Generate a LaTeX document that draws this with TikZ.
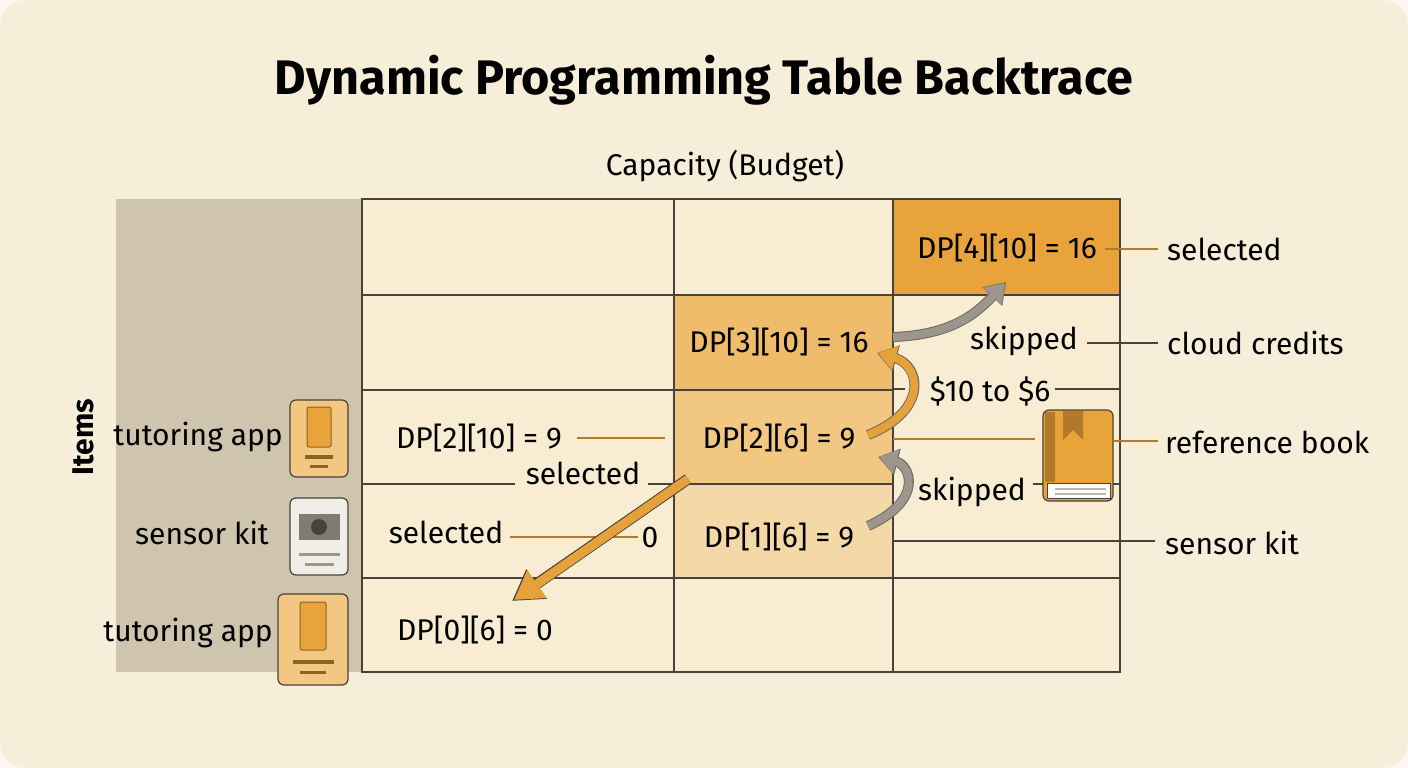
\documentclass[tikz,border=0pt]{standalone}
\usepackage{fontspec}
\setmainfont{Fira Sans}
\usetikzlibrary{arrows.meta}
\definecolor{bg}{HTML}{F6EED8}
\definecolor{cellc}{HTML}{F8EDD3}
\definecolor{side}{HTML}{CFC5AF}
\definecolor{or1}{HTML}{E8A43A}
\definecolor{or2}{HTML}{EEBC6A}
\definecolor{or3}{HTML}{F1C782}
\definecolor{or4}{HTML}{F4D8A8}
\definecolor{grid}{HTML}{4A423A}
\definecolor{brn}{HTML}{B07A2A}
\definecolor{gar}{HTML}{9C968C}
\definecolor{arrO}{HTML}{E5A23A}
\tikzset{
 t/.style={font=\fontsize{30}{34}\selectfont,text=black,inner sep=1pt},
 lead/.style={line width=1.2pt,brn},
 leadd/.style={line width=1.2pt,grid},
}
\begin{document}
\begin{tikzpicture}[x=1pt,y=-1pt]
\useasboundingbox (0,0) rectangle (1408,768);
\fill[white!60!bg] (0,0) rectangle (1408,768);
\fill[bg,rounded corners=25pt] (0,0) rectangle (1408,768);
\node[font=\fontsize{48.5}{52}\selectfont\bfseries] (title) at (704,80) {Dynamic Programming Table Backtrace};
\node[t] (cap) at (725,166) {Capacity (Budget)};
\fill[side] (116,199) rectangle (362,672);
\node[t,rotate=90,font=\fontsize{30}{32}\selectfont\bfseries] (items) at (83,437) {Items};
% cells
\fill[cellc] (362,199) rectangle (1120,672);
\fill[or1] (893,199) rectangle (1120,295);
\fill[or2] (674,295) rectangle (893,390);
\fill[or3] (674,390) rectangle (893,484);
\fill[or4] (674,484) rectangle (893,578);
\foreach \y in {295,578} \draw[grid,line width=1.2pt] (362,\y) -- (1120,\y);
\draw[grid,line width=1.2pt] (362,390) -- (893,390);
\draw[grid,line width=1.2pt] (674,484) -- (893,484);
\foreach \x in {674,893} \draw[grid,line width=1.2pt] (\x,199) -- (\x,672);
\draw[grid,line width=2pt] (362,199) rectangle (1120,672);
% icons
\draw[grid,line width=1.2pt,fill=or3,rounded corners=6pt] (290,400) rectangle (348,477);
\draw[brn!80!black,fill=or1,rounded corners=2pt,line width=1pt] (307,407) rectangle (331,447);
\fill[brn!80!black] (305,455) rectangle (333,459);
\fill[brn!80!black] (310,465) rectangle (328,468);
\draw[grid,line width=1.2pt,fill=white!70!side,rounded corners=6pt] (290,498) rectangle (348,575);
\fill[grid!70] (299,514) rectangle (340,540);
\fill[grid] (319,527) circle (8);
\fill[gar] (299,553) rectangle (340,556);
\fill[gar] (305,563) rectangle (334,566);
\draw[grid,line width=1.2pt,fill=or3,rounded corners=6pt] (278,594) rectangle (348,685);
\draw[brn!80!black,fill=or1,rounded corners=2pt,line width=1pt] (300,602) rectangle (326,650);
\fill[brn!80!black] (293,660) rectangle (334,664);
\fill[brn!80!black] (300,671) rectangle (326,674);
\node[t,anchor=east] (ta1) at (284,437) {tutoring app};
\node[t,anchor=east] (sk1) at (270,533) {sensor kit};
\node[t,anchor=east] (ta2) at (274,633) {tutoring app};
% book
\draw[grid,line width=1.2pt,fill=or1,rounded corners=6pt] (1043,410) rectangle (1113,501);
\fill[brn] (1045,412) rectangle (1055,482);
\fill[brn] (1063,411) -- (1083,411) -- (1083,440) -- (1073,430) -- (1063,440) -- cycle;
\draw[grid,fill=white!90!bg,line width=1pt] (1047,483) rectangle (1110,498);
\fill[gar!70] (1055,488) rectangle (1106,490);
\fill[gar!70] (1055,493) rectangle (1106,495);
% cell texts
\node[t] (d410) at (1007,248) {DP[4][10] = 16};
\node[t] (d310) at (779,342) {DP[3][10] = 16};
\node[t] (d210) at (479,438) {DP[2][10] = 9};
\node[t] (d26) at (779,438) {DP[2][6] = 9};
\node[t] (d16) at (779,537) {DP[1][6] = 9};
\node[t] (d06) at (475,630) {DP[0][6] = 0};
\node[t] (zero) at (650,537) {0};
\node[t] (sel1) at (583,473) {selected};
\node[t] (sel2) at (446,532) {selected};
\node[t] (skp1) at (1024,341) {skipped};
\node[t] (skp2) at (972,492) {skipped};
\node[t] (ten) at (990,391) {\$10 to \$6};
\node[t,anchor=west] (rsel) at (1166,249) {selected};
\node[t,anchor=west] (rcc) at (1166,343) {cloud credits};
\node[t,anchor=west] (rrb) at (1164,442) {reference book};
\node[t,anchor=west] (rsk) at (1164,543) {sensor kit};
% leaders
\draw[lead] (1105,249) -- (1158,249);
\draw[leadd] (1087,343) -- (1158,343);
\draw[leadd] (1055,389) -- (1120,389);
\draw[leadd] (893,389) -- (905,389);
\draw[lead] (1113,441) -- (1158,441);
\draw[lead] (893,439) -- (1035,439);
\draw[leadd] (893,541) -- (1155,541);
\draw[lead] (577,438) -- (665,438);
\draw[leadd] (362,484) -- (515,484);
\draw[leadd] (648,484) -- (674,484);
\draw[lead] (510,537) -- (638,537);
\draw[leadd] (1033,484) -- (1043,484);
\draw[leadd] (1113,484) -- (1120,484);
% arrows
\draw[-{Triangle[length=30pt,width=34pt]},line width=11pt,draw=grid] (688,479) -- (512,601);
\draw[-{Triangle[length=28pt,width=32pt]},line width=9pt,draw=arrO] (688,479) -- (514,600);
\draw[-{Triangle[length=20pt,width=26pt]},line width=10pt,draw=grid!80] (868,526) .. controls (925,500) and (910,465) .. (878,457);
\draw[-{Triangle[length=18pt,width=24pt]},line width=8pt,draw=gar] (868,526) .. controls (925,500) and (910,465) .. (879,457);
\draw[-{Triangle[length=20pt,width=26pt]},line width=10pt,draw=grid!80] (868,435) .. controls (930,410) and (920,365) .. (877,353);
\draw[-{Triangle[length=18pt,width=24pt]},line width=8pt,draw=arrO] (868,435) .. controls (930,410) and (920,365) .. (878,353);
\draw[-{Triangle[length=20pt,width=26pt]},line width=10pt,draw=grid!80] (893,337) .. controls (950,335) and (975,315) .. (1006,282);
\draw[-{Triangle[length=18pt,width=24pt]},line width=8pt,draw=gar] (893,337) .. controls (950,335) and (975,315) .. (1005,283);
\end{tikzpicture}
\end{document}
